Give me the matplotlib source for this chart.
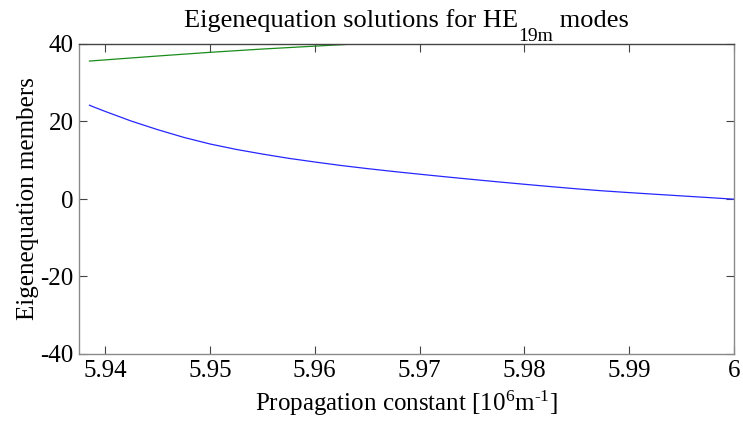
import matplotlib
matplotlib.use("Agg")
import matplotlib.pyplot as plt

plt.rcParams['font.family'] = ['Liberation Serif', 'DejaVu Serif']
plt.rcParams['mathtext.fontset'] = 'custom'
plt.rcParams['mathtext.rm'] = 'Liberation Serif'
plt.rcParams['mathtext.it'] = 'Liberation Serif:italic'
plt.rcParams['axes.unicode_minus'] = False

# Left-hand member of the eigenequation (blue)
beta_lhs = [5.9385, 5.9390, 5.9400, 5.9425, 5.9450, 5.9475, 5.9500, 5.9525,
            5.9550, 5.9575, 5.9600, 5.9625, 5.9650, 5.9675, 5.9700, 5.9725,
            5.9750, 5.9775, 5.9800, 5.9825, 5.9850, 5.9875, 5.9900, 5.9925,
            5.9950, 5.9975, 6.0000]
lhs = [24.2, 23.65, 22.6, 20.1, 17.9, 15.9, 14.2, 12.8,
       11.6, 10.5, 9.55, 8.65, 7.85, 7.1, 6.4, 5.72,
       5.06, 4.42, 3.8, 3.2, 2.62, 2.1, 1.65, 1.22,
       0.8, 0.38, -0.05]

# Right-hand member of the eigenequation (green)
beta_rhs = [5.9385, 5.9450, 5.9500, 5.9550, 5.9600, 5.9645]
rhs = [35.6, 36.9, 37.85, 38.7, 39.45, 40.1]

xticks = [5.94, 5.95, 5.96, 5.97, 5.98, 5.99, 6.0]
xticklabels = ['5.94', '5.95', '5.96', '5.97', '5.98', '5.99', '6']
yticks = [-40, -20, 0, 20, 40]

W, H = 743, 423
fig = plt.figure(figsize=(W/100, H/100), dpi=100)
ax = fig.add_axes([79/W, 1-354/H, (734-79)/W, (354-44)/H])

ax.plot(beta_lhs, lhs, color=(0.15, 0.15, 1.0), lw=0.9)
ax.plot(beta_rhs, rhs, color=(0.1, 0.55, 0.1), lw=0.9)

ax.set_xlim(5.9375, 6.0)
ax.set_ylim(-40, 40)
ax.set_xticks(xticks)
ax.set_xticklabels(xticklabels)
ax.set_yticks(yticks)

ax.tick_params(direction='in', length=6, width=0.8, labelsize=18,
               top=True, right=True, colors='#444444', labelcolor='black', pad=4)
for side in ['left', 'bottom', 'right']:
    ax.spines[side].set_color('#8a8a8a')
    ax.spines[side].set_linewidth(1.0)
ax.spines['top'].set_color('#444444')
ax.spines['top'].set_linewidth(1.0)

ax.set_xlabel('Propagation constant [10$^{\\mathrm{6}}$m$^{\\mathrm{\u20101}}$]',
              fontsize=18, labelpad=5)
ax.set_ylabel('Eigenequation members', fontsize=18, labelpad=1)

# Title built from pieces so the mode subscript sits low, TeX-style
renderer = fig.canvas.get_renderer()
pieces = [('Eigenequation solutions for HE', 19, 0),
          ('19m', 14, -14),
          (' modes', 19, 0)]
baseline_px = H - 27
texts, widths = [], []
for s, fs, dy in pieces:
    t = fig.text(0, 0, s, fontsize=fs, va='baseline', ha='left')
    widths.append(t.get_window_extent(renderer).width)
    texts.append((t, dy))
total = sum(widths)
x = (79 + 734) / 2 - total / 2
for (t, dy), w in zip(texts, widths):
    t.set_position((x / W, (baseline_px + dy) / H))
    x += w

fig.savefig('out.png', dpi=100)
